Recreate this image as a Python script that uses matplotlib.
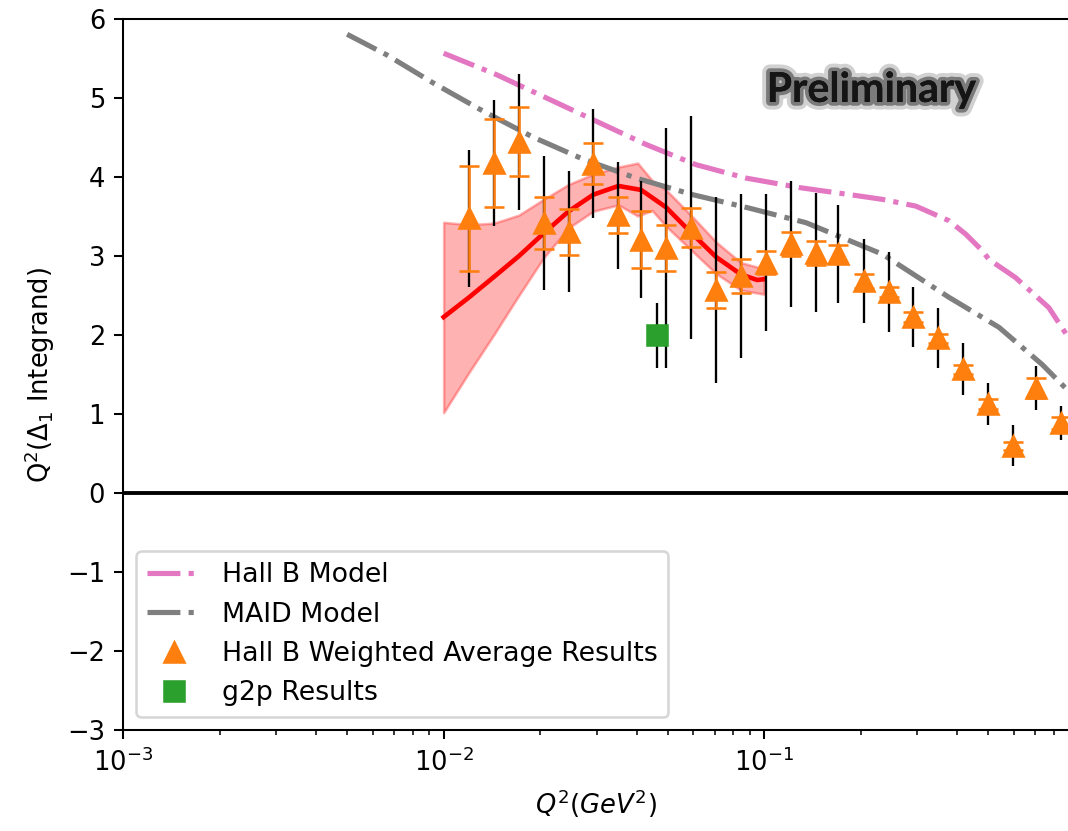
import numpy as np
import matplotlib
matplotlib.use('Agg')
import matplotlib.pyplot as plt
import matplotlib.patheffects as pe

# Hall B weighted average points: Q^2, value, stat error, total error
hallb_q2 = [0.0120, 0.01436, 0.01714, 0.0205, 0.02455, 0.0293, 0.0351, 0.0413,
            0.0494, 0.0591, 0.0708, 0.0846, 0.1011, 0.1210, 0.1449, 0.1703,
            0.2050, 0.2449, 0.2915, 0.349, 0.418, 0.500, 0.598, 0.705, 0.843]
hallb_val = [3.48, 4.18, 4.45, 3.42, 3.31, 4.17, 3.52, 3.21,
             3.11, 3.36, 2.57, 2.75, 2.92, 3.155, 3.045, 3.03,
             2.69, 2.55, 2.23, 1.96, 1.57, 1.13, 0.60, 1.33, 0.89]
hallb_stat = [0.66, 0.56, 0.44, 0.33, 0.29, 0.26, 0.23, 0.36,
              0.29, 0.245, 0.23, 0.21, 0.15, 0.155, 0.15, 0.11,
              0.09, 0.06, 0.06, 0.06, 0.06, 0.06, 0.05, 0.13, 0.08]
hallb_tot = [0.87, 0.80, 0.86, 0.85, 0.765, 0.69, 0.675, 0.74,
             1.52, 1.41, 1.175, 1.04, 0.87, 0.80, 0.755, 0.62,
             0.53, 0.51, 0.375, 0.38, 0.33, 0.27, 0.26, 0.28, 0.22]

# g2p point
g2p_q2 = [0.0462]
g2p_val = [2.0]
g2p_err = [0.41]

# model curves
hallb_model_q2 = [0.01, 0.0146, 0.0209, 0.0299, 0.0428, 0.0612, 0.0877, 0.1285, 0.185,
                  0.234, 0.297, 0.377, 0.425, 0.479, 0.502, 0.608, 0.772, 0.886]
hallb_model_val = [5.57, 5.30, 5.005, 4.71, 4.415, 4.16, 3.99, 3.87, 3.78,
                   3.72, 3.635, 3.45, 3.28, 3.07, 2.96, 2.73, 2.35, 1.98]
maid_q2 = [0.005, 0.00664, 0.00927, 0.01324, 0.01896, 0.0272, 0.0398, 0.0598,
           0.0897, 0.135, 0.234, 0.377, 0.540, 0.736, 0.886]
maid_val = [5.81, 5.55, 5.195, 4.84, 4.51, 4.23, 3.99, 3.78,
            3.61, 3.425, 3.025, 2.48, 2.10, 1.63, 1.30]

# fit curve and its uncertainty band
fit_q2 = [0.0100, 0.0120, 0.01436, 0.01714, 0.0205, 0.02455, 0.0293, 0.0351,
          0.0413, 0.0494, 0.0591, 0.0708, 0.0846, 0.0950, 0.1000]
fit_val = [2.23, 2.48, 2.74, 3.00, 3.29, 3.57, 3.78, 3.89,
           3.84, 3.62, 3.30, 2.99, 2.77, 2.70, 2.71]
band_q2 = [0.0100, 0.0120, 0.01436, 0.01714, 0.0205, 0.02455, 0.0293, 0.0351,
           0.0403, 0.0447, 0.0494, 0.0591, 0.0708, 0.0846, 0.1000]
band_lo = [1.02, 1.53, 2.01, 2.50, 2.98, 3.36, 3.57, 3.65,
           3.51, 3.58, 3.38, 3.08, 2.78, 2.57, 2.52]
band_hi = [3.43, 3.40, 3.42, 3.52, 3.72, 3.91, 4.04, 4.13,
           4.18, 3.96, 3.84, 3.52, 3.18, 2.92, 2.84]

dpi = 185
fig = plt.figure(figsize=(1068 / dpi, 831 / dpi), dpi=dpi)
ax = fig.add_axes([0.1152, 0.1212, 0.8848, 0.8556])

ax.fill_between(band_q2, band_lo, band_hi, color='red', alpha=0.3, zorder=1)
ax.plot(fit_q2, fit_val, color='red', lw=1.8, zorder=2)

ax.plot(hallb_model_q2, hallb_model_val, '-.', color='tab:pink', lw=2, label='Hall B Model', zorder=2)
ax.plot(maid_q2, maid_val, '-.', color='tab:gray', lw=2, label='MAID Model', zorder=2)

# total errors in black, statistical in orange with caps
ax.errorbar(hallb_q2, hallb_val, yerr=hallb_tot, fmt='none', ecolor='k', elinewidth=0.9, zorder=3)
ax.errorbar(g2p_q2, g2p_val, yerr=g2p_err, fmt='none', ecolor='k', elinewidth=0.9, zorder=3)
ax.errorbar(hallb_q2, hallb_val, yerr=hallb_stat, fmt='none', ecolor='tab:orange',
            elinewidth=1.0, capsize=3.7, capthick=1.0, zorder=4)
ax.plot(hallb_q2, hallb_val, '^', color='tab:orange', ms=8, ls='none',
        label='Hall B Weighted Average Results', zorder=5)
ax.plot(g2p_q2, g2p_val, 's', color='tab:green', ms=7.5, ls='none',
        label='g2p Results', zorder=5)

ax.axhline(0, color='k', lw=1.5, zorder=2)

ax.set_xscale('log')
ax.set_xlim(1e-3, 0.886)
ax.set_ylim(-3, 6)
ax.spines['right'].set_visible(False)
ax.set_xlabel(r'$Q^2(GeV^2)$')
ax.set_ylabel(r'$\mathrm{Q}^2(\Delta_1$ Integrand)')

ax.text(0.792, 0.9, 'Preliminary', transform=ax.transAxes, ha='center', va='center',
        fontsize=16, fontweight='bold', family=['Lato', 'DejaVu Sans'], color='#151515',
        path_effects=[pe.withStroke(linewidth=6, foreground='#999999', alpha=0.45),
                      pe.withStroke(linewidth=3, foreground='#555555', alpha=0.7),
                      pe.Normal()])

ax.legend(loc='lower left', fontsize=10.4)

fig.savefig('out.png', dpi=dpi)
